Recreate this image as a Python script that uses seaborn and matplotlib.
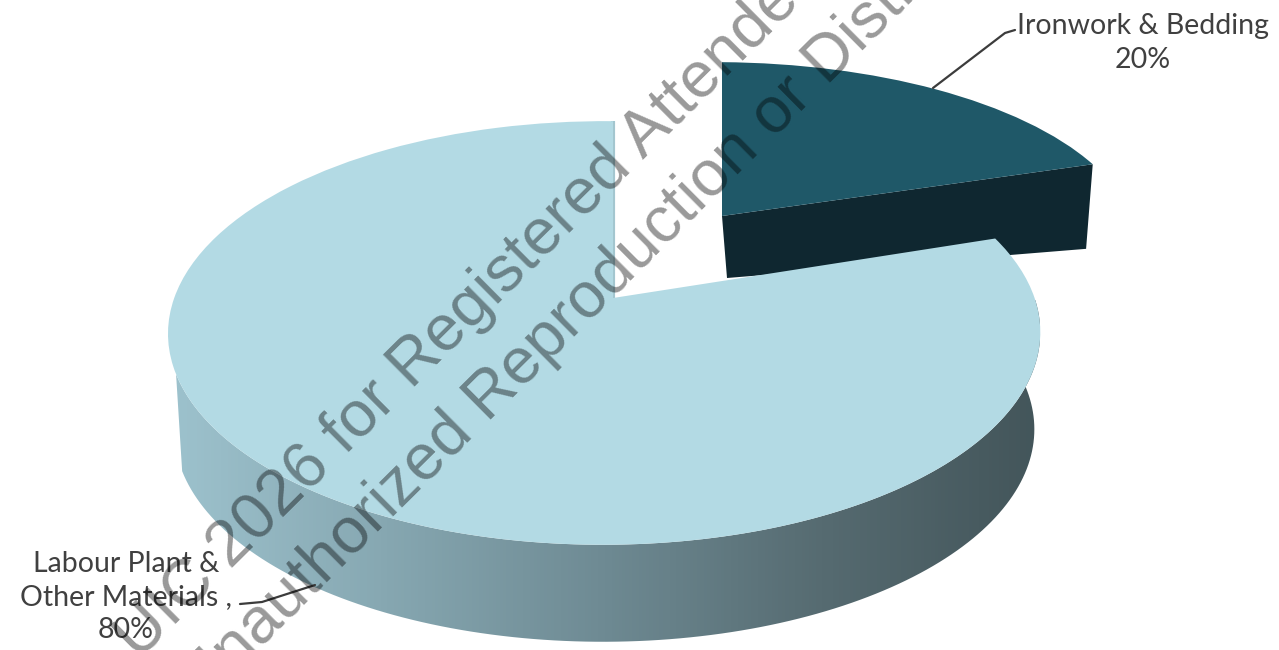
import numpy as np
import matplotlib
matplotlib.use('Agg')
import matplotlib.pyplot as plt
from matplotlib.colors import LinearSegmentedColormap
from matplotlib.patches import Polygon
from matplotlib.transforms import Transform
import seaborn as sns

sns.set_theme(style='white')
plt.rcParams['font.family'] = ['Lato', 'DejaVu Sans']

# valores del grafico
categories = ['Ironwork & Bedding', 'Labour Plant &\nOther Materials ,']
shares = [20, 80]
top_colors = ['#1f5868', '#b3dae4']
stamp_lines = ['UIC 2026 for Registered Attendees', 'Unauthorized Reproduction or Distribution']


# disco unidad -> pixeles con perspectiva, el fondo queda mas chico
class Disc(Transform):
    input_dims = 2
    output_dims = 2

    def __init__(self, cx, cy, a, b, k=0.165, j=0.02):
        super().__init__()
        self.cx, self.cy, self.a, self.b, self.k, self.j = cx, cy, a, b, k, j

    def transform_non_affine(self, pts):
        pts = np.asarray(pts, dtype=float)
        w = 1 + self.k * pts[:, 1] + self.j * pts[:, 0]
        return np.column_stack([self.cx + self.a * pts[:, 0] / w, self.cy - self.b * pts[:, 1] / w])


def rim(disc, t1, t2, n=150):
    t = np.radians(np.linspace(t1, t2, n))
    return disc.transform_non_affine(np.column_stack([np.cos(t), np.sin(t)]))


fig = plt.figure(figsize=(12.79, 6.5), dpi=100)
ax = fig.add_axes([0, 0, 1, 1])

wedges, _ = ax.pie(shares, colors=top_colors, startangle=90, counterclock=False, radius=1,
                   wedgeprops=dict(linewidth=0))
ax.set_aspect('auto')
ax.axis('off')

small, big = wedges
main_top = Disc(613, 298, 430, 206)
main_low = Disc(613, 395, 424, 206)
small_top = Disc(722, 216, 430 * 0.97, 206 * 0.87)
small_low = Disc(727, 278, 404, 101)

small.set_transform(small_top + ax.transData)
big.set_transform(main_top + ax.transData)
small.set_zorder(4)
big.set_zorder(5)

# cara frontal de la porcion separada
edge_top = rim(small_top, small.theta1, small.theta1, 1)
edge_low = rim(small_low, small.theta1, small.theta1, 1)
apex_top = small_top.transform_non_affine(np.array([[0.0, 0.0]]))
apex_low = small_low.transform_non_affine(np.array([[0.0, 0.0]]))
ax.add_patch(Polygon(np.vstack([apex_top, edge_top, edge_low, apex_low]),
                     closed=True, fc='#0f2730', ec='none', zorder=3))

# lateral del disco grande con degradado
upper = rim(main_top, small.theta1, -160)
lower = rim(main_low, small.theta1, -160)
side = Polygon(np.vstack([upper, lower[::-1]]), closed=True, fc='none', ec='none')
ax.add_patch(side)
side_cmap = LinearSegmentedColormap.from_list(
    'side', sns.blend_palette(['#9dc2cd', '#86a7b1', '#6e8a93', '#566b71', '#43555a'], 32))
grad = ax.imshow(np.linspace(0, 1, 256).reshape(1, -1), cmap=side_cmap, aspect='auto',
                 extent=[170, 1040, 650, 300], zorder=2)
grad.set_clip_path(side)
ax.set_xlim(0, 1279)
ax.set_ylim(650, 0)

# borde fino del corte vertical
ax.plot([613, 613], [121, 298], color='#a3c6cf', lw=3, solid_capstyle='butt', zorder=4)

ax.plot([933, 1005, 1015], [88, 33, 30], color='#3c3c3c', lw=1.6, zorder=6)
ax.plot([240, 262, 315], [604, 602, 585], color='#3c3c3c', lw=1.6, zorder=6)

ax.text(1143, 43, f'{categories[0]}\n{shares[0]}%', ha='center', va='center', fontsize=20.5,
        color='#404040', linespacing=1.35, zorder=7)
ax.text(126, 597, f'{categories[1]}\n{shares[1]}%', ha='center', va='center', fontsize=20.5,
        color='#404040', linespacing=1.35, zorder=7)

# sello de agua
ax.text(139, 661, stamp_lines[0], rotation=44.8, rotation_mode='anchor', ha='left', va='baseline',
        fontsize=46.5, family='Liberation Sans', color='#000000', alpha=0.4, zorder=8, clip_on=True)
ax.text(202, 707, stamp_lines[1], rotation=44.8, rotation_mode='anchor', ha='left', va='baseline',
        fontsize=46.5, family='Liberation Sans', color='#000000', alpha=0.4, zorder=8, clip_on=True)

fig.savefig('out.png', dpi=100)
